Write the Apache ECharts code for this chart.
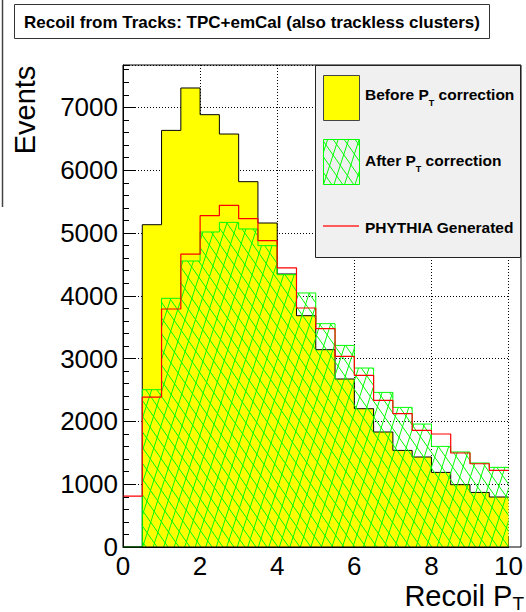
<!DOCTYPE html>
<html><head><meta charset="utf-8">
<script src="https://cdn.jsdelivr.net/npm/echarts@6/dist/echarts.min.js"></script>
<style>html,body{margin:0;padding:0;background:#fff}#c{width:526px;height:612px}</style>
</head><body><div id="c"></div>
<script>
// ---- data ----
const binLow = [0,0.5,1,1.5,2,2.5,3,3.5,4,4.5,5,5.5,6,6.5,7,7.5,8,8.5,9,9.5];
const binHigh = 10;
const beforeCorr = [0,5132,6634,7309,6884,6576,5817,5159,4347,3683,3142,2675,2202,1831,1538,1433,1188,992,869,796];
const afterCorr  = [0,2505,3960,4554,5016,5169,5064,4798,4336,4045,3556,3210,2850,2462,2223,1958,1602,1513,1338,1268];
const pythiaGen  = [810,2388,3790,4665,5275,5440,5228,4877,4443,3806,3476,3035,2733,2334,2123,1857,1799,1497,1326,1220];
const xTicks = [0,2,4,6,8,10];
const yTicks = [0,1000,2000,3000,4000,5000,6000,7000];
const yMax = 7675;
const seriesNames = ['Before P_T correction','After P_T correction','PHYTHIA Generated'];
const titleText = 'Recoil from Tracks: TPC+emCal (also trackless clusters)';

const FONT = '"Liberation Sans", Arial, Helvetica, sans-serif';

function steps(vals){
  const pts = binLow.map((x,i)=>[x, vals[i]]);
  pts.push([binHigh, vals[vals.length-1]]);
  return pts;
}

function hatchCanvas(){
  const c = document.createElement('canvas'); c.width = 526; c.height = 612;
  const g = c.getContext('2d'); g.strokeStyle = '#00ff00'; g.lineWidth = 1;
  function family(angleDeg, spacing){
    const a = angleDeg*Math.PI/180, dx = Math.cos(a), dy = -Math.sin(a);
    const nx = -dy, ny = dx, L = 1500;
    for (let k=-120;k<=120;k++){
      const cx = 263 + nx*k*spacing, cy = 306 + ny*k*spacing;
      g.beginPath(); g.moveTo(cx-dx*L, cy-dy*L); g.lineTo(cx+dx*L, cy+dy*L); g.stroke();
    }
  }
  family(72, 10); family(125, 9);
  return c;
}
const hatch = {image: hatchCanvas(), repeat: 'repeat', imageWidth: 526, imageHeight: 612};

const chart = echarts.init(document.getElementById('c'), null, {renderer: 'svg'});
const gridL = 123, gridT = 65, gridW = 398, gridH = 482;

chart.setOption({
  animation: false,
  backgroundColor: '#fff',
  grid: {left: gridL, top: gridT, width: gridW, height: gridH, show: false},
  xAxis: {
    type: 'value', min: xTicks[0], max: xTicks[xTicks.length-1], interval: 2,
    axisLine: {show: true, onZero: false, lineStyle: {color: '#000', width: 1}},
    axisTick: {show: true, inside: true, length: 11, lineStyle: {color: '#000'}},
    minorTick: {show: true, splitNumber: 4, length: 5.5, lineStyle: {color: '#000'}},
    axisLabel: {fontSize: 26, color: '#000', margin: 6, fontFamily: FONT,
      alignMinLabel: 'center', alignMaxLabel: 'center', formatter: v => String(v)},
    splitLine: {show: true, lineStyle: {type: [1,2], color: '#000', width: 1}}
  },
  yAxis: [{
    type: 'value', min: yTicks[0], max: yMax, interval: 1000, position: 'left',
    axisLine: {show: true, onZero: false, lineStyle: {color: '#000', width: 1}},
    axisTick: {show: true, inside: true, length: 12, lineStyle: {color: '#000'}},
    axisLabel: {showMaxLabel: false, fontSize: 26, color: '#000', margin: 5, fontFamily: FONT,
      formatter: v => String(v)},
    splitLine: {show: true, lineStyle: {type: [1,2], color: '#000', width: 1}}
  },{
    type: 'value', min: yTicks[0], max: yMax, interval: 200, position: 'left', offset: 0,
    axisLine: {show: false},
    axisTick: {show: true, inside: true, length: 6, lineStyle: {color: '#000'}},
    axisLabel: {show: false},
    splitLine: {show: false}
  }],
  series: [{
    name: seriesNames[0], type: 'line', step: 'end', data: steps(beforeCorr),
    symbol: 'none', silent: true, z: 2,
    lineStyle: {color: '#000', width: 1}, itemStyle: {color: '#ffff00'},
    areaStyle: {color: '#ffff00', opacity: 1}
  },{
    name: seriesNames[1], type: 'line', step: 'end', data: steps(afterCorr),
    symbol: 'none', silent: true, z: 3,
    lineStyle: {color: '#00ff00', width: 1}, itemStyle: {color: '#00ff00'},
    areaStyle: {color: hatch, opacity: 1}
  },{
    name: seriesNames[2], type: 'line', step: 'end', data: steps(pythiaGen),
    symbol: 'none', silent: true, z: 4,
    lineStyle: {color: '#ff0000', width: 1.2}, itemStyle: {color: '#ff0000'}
  }],
  graphic: [
    // plot frame
    {type: 'rect', z: 50, silent: true, shape: {x: gridL, y: gridT, width: gridW, height: gridH},
      style: {fill: null, stroke: '#000', lineWidth: 1}},
    // left stray pad edge
    {type: 'line', z: 50, silent: true, shape: {x1: 2.5, y1: 0, x2: 2.5, y2: 207}, style: {stroke: '#444', lineWidth: 1.5}},
    // title box
    {type: 'rect', z: 60, silent: true, shape: {x: 14.5, y: 4.5, width: 475, height: 34},
      style: {fill: '#fff', stroke: '#333', lineWidth: 1}},
    {type: 'text', z: 61, silent: true, x: 252, y: 22,
      style: {text: titleText, font: 'bold 17px ' + FONT, fill: '#000', align: 'center', verticalAlign: 'middle'}},
    // y title
    {type: 'text', z: 61, silent: true, x: 25, y: 110, rotation: Math.PI/2,
      style: {text: 'Events', font: '29px ' + FONT, fill: '#000', align: 'center', verticalAlign: 'middle'}},
    // x title
    {type: 'text', z: 61, silent: true, x: 524, y: 581,
      style: {text: '{a|Recoil P}{s|T}', align: 'right', verticalAlign: 'top', fill: '#000',
        rich: {a: {fontSize: 29, fontFamily: FONT, lineHeight: 30, verticalAlign: 'top'},
               s: {fontSize: 19, fontFamily: FONT, lineHeight: 44, verticalAlign: 'middle'}}}},
    // legend
    {type: 'rect', z: 60, silent: true, shape: {x: 315.5, y: 65.5, width: 205, height: 192},
      style: {fill: '#f0f0f0', stroke: '#222', lineWidth: 1}},
    {type: 'rect', z: 61, silent: true, shape: {x: 323.5, y: 75.5, width: 36, height: 45},
      style: {fill: '#ffff00', stroke: '#444', lineWidth: 1}},
    {type: 'rect', z: 61, silent: true, shape: {x: 323.5, y: 139.5, width: 36, height: 45},
      style: {fill: hatch, stroke: '#00ff00', lineWidth: 1}},
    {type: 'line', z: 61, silent: true, shape: {x1: 323, y1: 226, x2: 359, y2: 226},
      style: {stroke: '#ff5a5a', lineWidth: 2}},
    {type: 'text', z: 62, silent: true, x: 365, y: 86,
      style: {text: '{a|Before P}{s|T}{a| correction}', align: 'left', verticalAlign: 'top', fill: '#000',
        rich: {a: {fontSize: 15.5, fontWeight: 'bold', fontFamily: FONT, lineHeight: 16, verticalAlign: 'top'},
               s: {fontSize: 9, fontWeight: 'bold', fontFamily: FONT, lineHeight: 34, verticalAlign: 'middle'}}}},
    {type: 'text', z: 62, silent: true, x: 365, y: 152,
      style: {text: '{a|After P}{s|T}{a| correction}', align: 'left', verticalAlign: 'top', fill: '#000',
        rich: {a: {fontSize: 15.5, fontWeight: 'bold', fontFamily: FONT, lineHeight: 16, verticalAlign: 'top'},
               s: {fontSize: 9, fontWeight: 'bold', fontFamily: FONT, lineHeight: 34, verticalAlign: 'middle'}}}},
    {type: 'text', z: 62, silent: true, x: 365, y: 227,
      style: {text: 'PHYTHIA Generated', font: 'bold 15.5px ' + FONT, fill: '#000', align: 'left', verticalAlign: 'middle'}}
  ]
});
</script>
</body></html>
